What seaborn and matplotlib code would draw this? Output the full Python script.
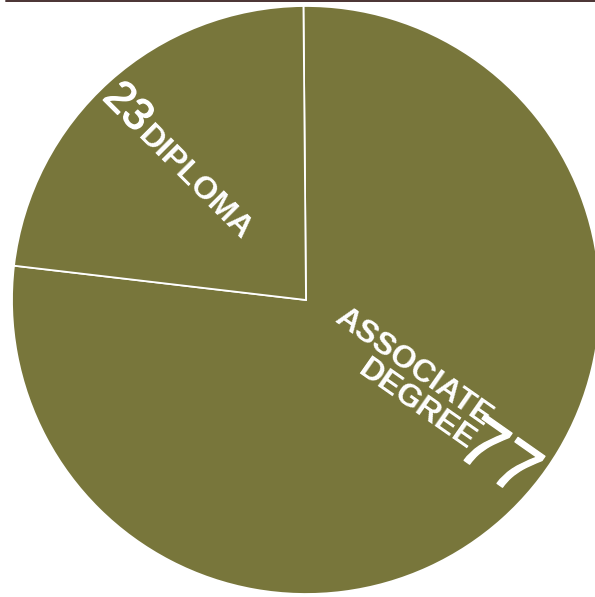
import numpy as np
import matplotlib
matplotlib.use("Agg")
import matplotlib.pyplot as plt
import matplotlib.patheffects as pe
from matplotlib.lines import Line2D
from matplotlib.textpath import TextPath
from matplotlib.font_manager import FontProperties
import seaborn as sns

# data
categories = ["ASSOCIATE DEGREE", "DIPLOMA"]
values = [77, 23]
value_labels = ["77", "23"]
name_labels = ["ASSOCIATE\nDEGREE", "DIPLOMA"]

W, H, DPI = 595, 597, 100
OLIVE = "#78763b"
FONT = "Liberation Sans"

sns.set_style("white")
plt.rcParams["font.family"] = [FONT, "DejaVu Sans"]


def text_width(s, size, weight="normal"):
    fp = FontProperties(family=FONT, size=size, weight=weight)
    return TextPath((0, 0), s, prop=fp).get_extents().width * DPI / 72


fig = plt.figure(figsize=(W / DPI, H / DPI), dpi=DPI)
ax = fig.add_axes([0, 0, 1, 1])

# axes in pixel units, y up
cx, cy, R = 306, 297, 294
ax.pie(values, startangle=90.5, counterclock=False, center=(cx, cy), radius=R,
       colors=[OLIVE] * len(values),
       wedgeprops=dict(edgecolor="white", linewidth=1.3))
ax.set_xlim(0, W)
ax.set_ylim(0, H)
ax.set_aspect("equal")
ax.set_axis_off()


def polar(angle, r):
    a = np.radians(angle)
    return cx + r * np.cos(a), cy + r * np.sin(a)


def dirs(rot):
    a = np.radians(rot)
    return np.array([np.cos(a), np.sin(a)]), np.array([-np.sin(a), np.cos(a)])


NAME_SIZE = 23
thick = [pe.withStroke(linewidth=1.0, foreground="white")]

# DIPLOMA: value first, name running toward the centre
rot = -45
d, u = dirs(rot)
p = np.array(polar(135.4, 287))
ax.text(*p, value_labels[1], fontsize=32, color="white", rotation=rot,
        rotation_mode="anchor", ha="left", va="baseline", path_effects=thick)
p2 = p + (text_width(value_labels[1], 32) + 7) * d - 2 * u
ax.text(*p2, name_labels[1], fontsize=NAME_SIZE, fontweight="bold", color="white",
        rotation=rot, rotation_mode="anchor", ha="left", va="baseline")

# ASSOCIATE DEGREE: name toward the centre, value at the rim
rot = -35
d, u = dirs(rot)
p = np.array(polar(-43.0, 292))
ax.text(*p, value_labels[0], fontsize=52, color="white", rotation=rot,
        rotation_mode="anchor", ha="right", va="baseline", path_effects=thick)
p2 = p - (text_width(value_labels[0], 52) - 2) * d + 9 * u
ax.text(*p2, name_labels[0], fontsize=NAME_SIZE, fontweight="bold", color="white",
        rotation=rot, rotation_mode="anchor", ha="right", va="baseline",
        multialignment="right", linespacing=0.95)

# thin rule along the top edge
fig.add_artist(Line2D([6 / W, 1], [1 - 0.6 / H] * 2, transform=fig.transFigure,
                      color="#4a3232", lw=1.4))

fig.savefig("out.png", dpi=DPI)
